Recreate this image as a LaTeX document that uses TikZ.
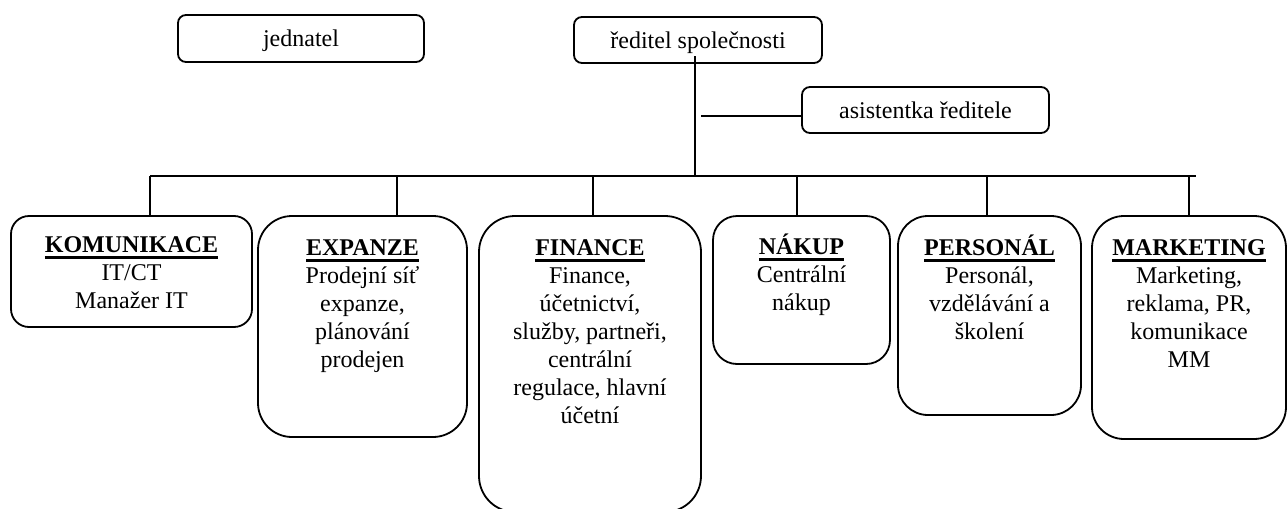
\documentclass[tikz,border=0pt]{standalone}
\usepackage{fontspec}
\setmainfont{Liberation Serif}
\usetikzlibrary{calc}
\tikzset{
  every node/.style={font=\fontsize{12}{14}\selectfont},
  box/.style={draw, rounded corners=4pt, line width=0.9pt, inner sep=0pt, outer sep=0pt, anchor=north west},
  top/.style={box, text height=11pt, text depth=3pt},
  conn/.style={line width=0.9pt},
  txt/.style={align=center, anchor=north, inner sep=0pt},
}
% bold heading with a heavy underline
\newcommand{\hd}[1]{\rule{0pt}{11pt}\setbox0\hbox{\bfseries #1}\rlap{\rule[-3.1pt]{\wd0}{1.2pt}}\box0}

\begin{document}
\begin{tikzpicture}[x=0.5pt,y=-0.5pt]
  \useasboundingbox (0,0) rectangle (1287,509);

  % top level
  \node[top, minimum width=123pt, minimum height=23.5pt] (jed) at (178,15) {jednatel};
  \node[top, minimum width=124pt, minimum height=23pt] (dir) at (574,17) {ředitel společnosti};
  \node[top, minimum width=123.5pt, minimum height=23pt] (asist) at (802,87) {asistentka ředitele};

  % departments
  \node[box, rounded corners=9pt, minimum width=120.5pt, minimum height=55.5pt] (kom) at (11,216) {};
  \node[box, rounded corners=17pt, minimum width=104.5pt, minimum height=110.5pt] (exp) at (258,216) {};
  \node[box, rounded corners=18pt, minimum width=111pt, minimum height=148pt] (fin) at (479,216) {};
  \node[box, rounded corners=12pt, minimum width=88.5pt, minimum height=74pt] (nak) at (713,216) {};
  \node[box, rounded corners=15pt, minimum width=91.5pt, minimum height=99.5pt] (per) at (898,216) {};
  \node[box, rounded corners=16pt, minimum width=97pt, minimum height=111.5pt] (mar) at (1092,216) {};

  \node[txt] (kom-t) at ([yshift=-7pt]kom.north) {\hd{KOMUNIKACE}\\IT/CT\\Manažer IT};
  \node[txt] (exp-t) at ([yshift=-8.5pt]exp.north) {\hd{EXPANZE}\\Prodejní síť\\expanze,\\plánování\\prodejen};
  \node[txt] (fin-t) at ([yshift=-8.5pt]fin.north) {\hd{FINANCE}\\Finance,\\účetnictví,\\služby, partneři,\\centrální\\regulace, hlavní\\účetní};
  \node[txt] (nak-t) at ([yshift=-8pt]nak.north) {\hd{NÁKUP}\\Centrální\\nákup};
  \node[txt] (per-t) at ([yshift=-8.5pt]per.north) {\hd{PERSONÁL}\\Personál,\\vzdělávání a\\školení};
  \node[txt] (mar-t) at ([yshift=-8.5pt]mar.north) {\hd{MARKETING}\\Marketing,\\reklama, PR,\\komunikace\\MM};

  % connectors
  \coordinate (hub) at (695,176);
  \draw[conn] ($(dir.south -| hub)+(0,-7)$) -- (hub);
  \coordinate (busl) at (150,176);
  \coordinate (busr) at (1196,176);
  \draw[conn] (busl) -- (busr);
  \foreach \x/\b in {150/kom,397/exp,593/fin,797/nak,987/per,1189/mar} {
    \coordinate (d\b) at (\x,176);
    \draw[conn] (d\b) -- (d\b |- \b.north);
  }
  \coordinate (ast) at (701,116);
  \draw[conn] (ast) -- (ast -| asist.west);
\end{tikzpicture}
\end{document}
